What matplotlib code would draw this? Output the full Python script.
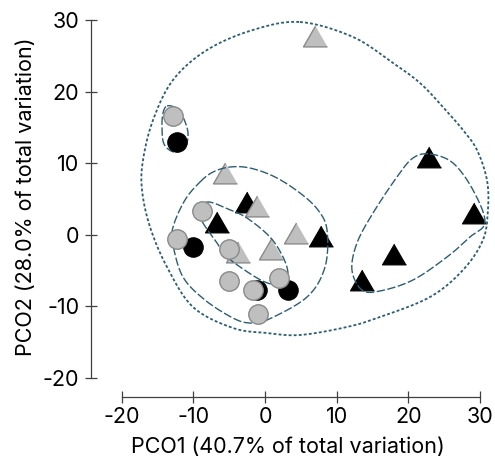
import matplotlib
matplotlib.use("Agg")
import numpy as np
import matplotlib.pyplot as plt

plt.rcParams["font.family"] = ["Inter", "DejaVu Sans"]
plt.rcParams["axes.unicode_minus"] = False

# PCO scores per group
gray_circle_x = [-12.8, -12.24, -8.75, -5.03, -4.99, -1.72, 1.95, -0.94]
gray_circle_y = [16.6, -0.66, 3.34, -2.01, -6.42, -7.75, -6.0, -11.14]
black_circle_x = [-12.33, -10.0, -1.16, 3.25]
black_circle_y = [12.9, -1.69, -7.75, -7.75]
gray_tri_x = [6.97, -5.54, -1.08, -3.73, 0.79, 4.32]
gray_tri_y = [27.72, 8.61, 3.95, -2.48, -2.06, 0.26]
black_tri_x = [-6.77, -2.56, 7.77, 13.49, 17.99, 22.92, 29.16]
black_tri_y = [1.76, 4.56, -0.24, -6.35, -2.71, 10.85, 3.02]

# cluster outlines (outline vertices in PCO units)
outer_x = [4.88, 12.27, 17.86, 21.62, 24.83, 27.62, 29.58, 30.97, 31.11, 30.41, 27.62, 23.02, 16.04,
           11.44, 4.88, 0.27, -4.47, -10.05, -13.68, -16.05, -17.17, -17.03, -15.63, -12.84, -8.1, -1.68]
outer_y = [29.72, 27.63, 23.99, 21.2, 17.84, 14.63, 11.83, 7.64, 3.44, -0.75, -4.95, -8.72, -11.52,
           -12.91, -14.03, -13.75, -13.05, -10.12, -4.53, 1.07, 6.24, 10.43, 16.02, 21.62, 25.81, 28.61]
mid_x = [-9.07, -7.26, -4.89, -2.1, 1.39, 4.88, 7.39, 8.65, 8.37, 5.86, 0.27, -2.1, -4.47,
         -8.38, -11.45, -12.84, -12.84, -11.17]
mid_y = [7.36, 8.75, 9.45, 9.31, 8.06, 5.82, 3.44, 0.65, -4.53, -8.72, -11.94, -12.36, -11.66,
         -9.14, -5.92, -1.45, 1.07, 4.84]
inner_x = [-9.35, -7.96, -5.17, -2.52, 0.69, 2.51, 3.2, 2.65, 1.39, -1.12, -5.31, -6.7, -8.66]
inner_y = [3.44, 4.56, 3.58, 2.32, -0.33, -3.13, -5.37, -6.76, -7.04, -6.06, -3.13, -1.17, 1.63]
small_x = [-13.68, -12.42, -11.45, -10.75, -11.17, -12.7, -14.1, -14.38, -14.24]
small_y = [17.98, 17.7, 16.44, 14.21, 12.25, 11.55, 12.67, 15.05, 17.0]
right_x = [23.02, 26.23, 29.02, 30.69, 28.6, 25.39, 20.65, 16.04, 13.53, 12.13, 12.83, 15.07, 18.41, 20.65]
right_y = [11.27, 10.01, 6.24, 1.76, -0.33, -3.13, -6.34, -7.88, -7.74, -4.95, -1.17, 3.02, 8.06, 10.71]

x_ticks = [-20, -10, 0, 10, 20, 30]
y_ticks = [-20, -10, 0, 10, 20, 30]


def closed_curve(xs, ys, n=30):
    # periodic Catmull-Rom through the outline vertices
    p = np.column_stack([xs, ys])
    m = len(p)
    t = np.linspace(0, 1, n, endpoint=False)[:, None]
    segs = []
    for i in range(m):
        p0, p1, p2, p3 = p[i - 1], p[i], p[(i + 1) % m], p[(i + 2) % m]
        segs.append(0.5 * (2 * p1 + (-p0 + p2) * t + (2 * p0 - 5 * p1 + 4 * p2 - p3) * t ** 2
                           + (-p0 + 3 * p1 - 3 * p2 + p3) * t ** 3))
    c = np.vstack(segs)
    c = np.vstack([c, c[:1]])
    return c[:, 0], c[:, 1]


fig = plt.figure(figsize=(4.95, 4.63), dpi=100)
ax = fig.add_axes([0.2459, 0.1842, 0.7238, 0.7726])

line_col = "#2b5d73"
tri = [(0, 0.433), (-0.5, -0.433), (0.5, -0.433)]

ax.plot(black_tri_x, black_tri_y, ls="none", marker=tri, ms=17.3, mfc="black", mec="black",
        mew=0.8, clip_on=False, zorder=2)
ax.plot(gray_tri_x, gray_tri_y, ls="none", marker=tri, ms=17.3, mfc="#bfbfbf", mec="#8a8a8a",
        mew=1.0, clip_on=False, zorder=2.1)

for xs, ys in [(mid_x, mid_y), (inner_x, inner_y), (small_x, small_y), (right_x, right_y)]:
    cx, cy = closed_curve(xs, ys)
    ax.plot(cx, cy, color=line_col, lw=1.0, ls=(0, (6, 1.8)), clip_on=False, zorder=2.5)
cx, cy = closed_curve(outer_x, outer_y)
ax.plot(cx, cy, color=line_col, lw=1.3, ls=(0, (1.6, 1.2)), clip_on=False, zorder=2.5)

ax.plot(black_circle_x, black_circle_y, ls="none", marker="o", ms=14, mfc="black", mec="black",
        mew=0.8, clip_on=False, zorder=3)
ax.plot(gray_circle_x, gray_circle_y, ls="none", marker="o", ms=14, mfc="#bfbfbf", mec="#8a8a8a",
        mew=1.0, clip_on=False, zorder=3.1)

ax.set_xlim(-20, 30)
ax.set_ylim(-20, 30)
ax.set_xticks(x_ticks)
ax.set_yticks(y_ticks)

for s in ["top", "right"]:
    ax.spines[s].set_visible(False)
ax.spines["left"].set_position(("outward", 22.3))
ax.spines["bottom"].set_position(("outward", 13.7))
ax.spines["left"].set_bounds(-20, 30)
ax.spines["bottom"].set_bounds(-20, 30)
for s in ["left", "bottom"]:
    ax.spines[s].set_color("#404040")
    ax.spines[s].set_linewidth(0.9)

ax.tick_params(direction="inout", length=8.5, width=0.9, color="#404040", labelsize=15.5)
ax.tick_params(axis="x", pad=3)
ax.tick_params(axis="y", pad=4)

ax.set_xlabel("PCO1 (40.7% of total variation)", fontsize=15.5)
ax.set_ylabel("PCO2 (28.0% of total variation)", fontsize=15.5)
ax.xaxis.set_label_coords(0.464, -0.165)
ax.yaxis.set_label_coords(-0.24, 0.505)

fig.savefig("out.png", dpi=100)
